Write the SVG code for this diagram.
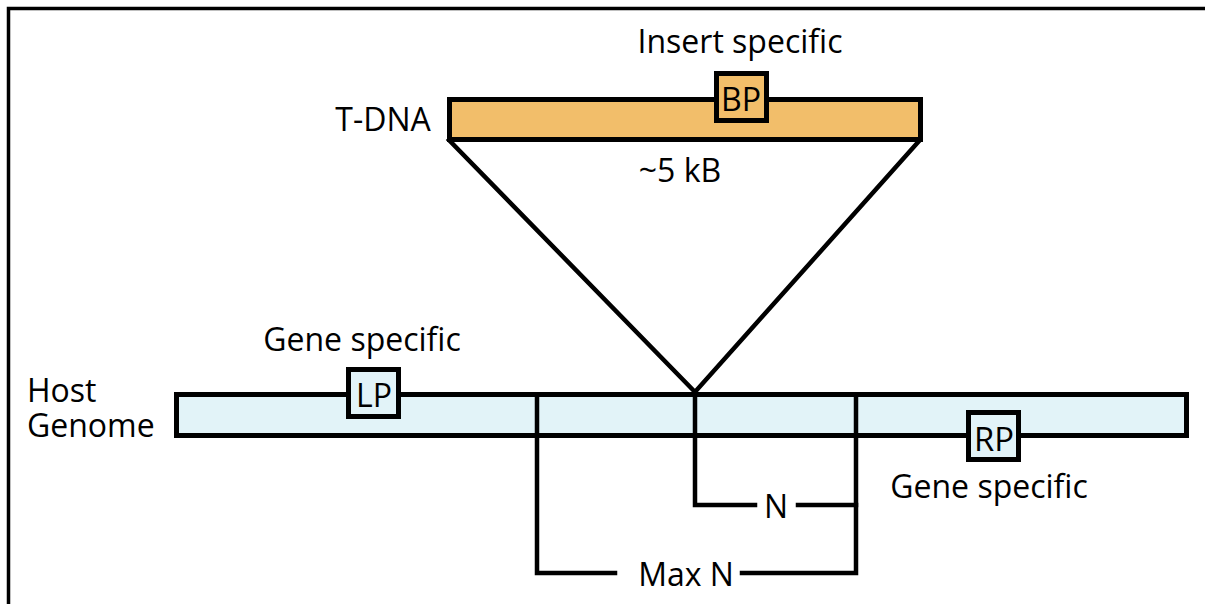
<svg xmlns="http://www.w3.org/2000/svg" width="1205" height="604" viewBox="0 0 1205 604">
<style>
text{font-family:"Open Sans","Noto Sans","DejaVu Sans",sans-serif;font-size:32px;fill:#000}
.c{text-anchor:middle}
.bx{font-size:32px}
.ln{stroke:#000;stroke-width:4.5;fill:none;stroke-linecap:square}
.tdna{fill:#F2BE6A;stroke:#000;stroke-width:5}
.host{fill:#E2F3F8;stroke:#000;stroke-width:5}
</style>
<rect width="1205" height="604" fill="#fff"/>
<path d="M8.5,604 V8.5 H1205" fill="none" stroke="#000" stroke-width="3.5"/>
<g id="connectors">
<path class="ln" d="M449,140 L695,392 L920,140"/>
<path class="ln" d="M695,395 V505 H755"/>
<path class="ln" d="M798,505 H856"/>
<path class="ln" d="M537,395 V573 H615"/>
<path class="ln" d="M742,573 H856 V395"/>
</g>
<g id="tdna">
<rect class="tdna" x="449.5" y="99.5" width="471" height="40"/>
<text x="383" y="131" class="c">T-DNA</text>
<text x="680" y="182" class="c">~5 kB</text>
</g>
<g id="bp">
<rect class="tdna" x="716.5" y="73.5" width="50" height="47"/>
<text x="741" y="111" class="c bx" textLength="40" lengthAdjust="spacingAndGlyphs">BP</text>
<text x="740" y="53" class="c">Insert specific</text>
</g>
<g id="host">
<rect class="host" x="176.5" y="394.5" width="1010" height="41"/>
<text x="27" y="402">Host</text>
<text x="27" y="437">Genome</text>
</g>
<g id="lines-over">
<path class="ln" d="M537,395 V435 M695,395 V435 M856,395 V435"/>
</g>
<g id="lp">
<rect class="host" x="348.5" y="369.5" width="50" height="47"/>
<text x="374" y="407" class="c bx" textLength="36" lengthAdjust="spacingAndGlyphs">LP</text>
<text x="362" y="351" class="c">Gene specific</text>
</g>
<g id="rp">
<rect class="host" x="968.5" y="412.5" width="50" height="47"/>
<text x="994" y="451" class="c bx" textLength="40" lengthAdjust="spacingAndGlyphs">RP</text>
<text x="989" y="498" class="c">Gene specific</text>
</g>
<g id="labels">
<text x="776" y="518" class="c">N</text>
<text x="686" y="586" class="c">Max N</text>
</g>
</svg>
